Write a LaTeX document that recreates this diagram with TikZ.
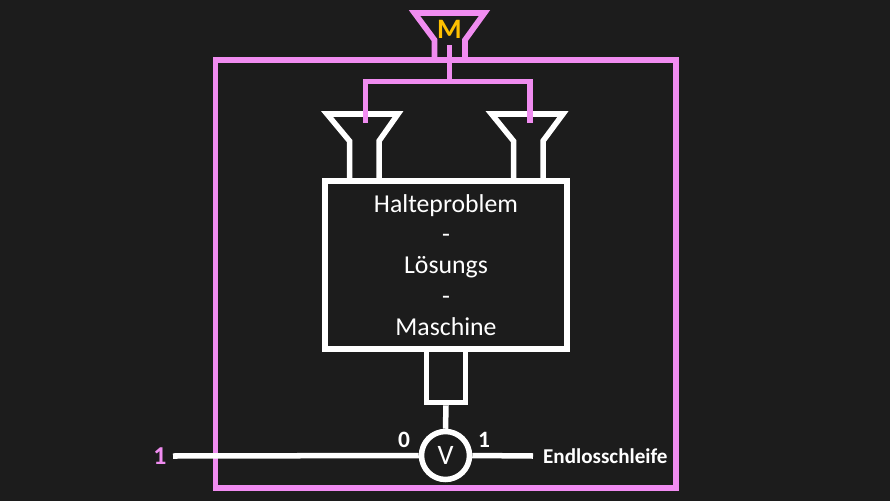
\documentclass[tikz,border=0pt]{standalone}
\usepackage{fontspec}
\setmainfont{Carlito}
\definecolor{hintergrund}{HTML}{1C1C1C}
\definecolor{rosa}{HTML}{F08CF0}
\definecolor{gelb}{HTML}{FFC000}
\tikzset{
	weiss/.style = {draw = white, line width = 4.7pt},
	rosalinie/.style = {draw = rosa, line width = 4.9pt}
}

\begin{document}
\begin{tikzpicture}[x = 0.03cm, y = -0.03cm]
\useasboundingbox[fill = hintergrund] (0,0) rectangle (890,501);

% Rahmen
\draw[rosalinie] (215.5,60) rectangle (676,488);

% Trichter M
\draw[rosalinie] (434.5,60) -- (434.5,40) -- (414.5,13) -- (484.5,13) -- (465,40) -- (465,60);
\node[text = gelb, font = \fontsize{24}{26}\selectfont\bfseries] (Mlabel) at (449.5,29) {M};

% Knoten
\begin{scope}[
		every node/.style = {weiss, text = white, inner sep = 0pt}]
	\node[minimum width = 7.26cm, minimum height = 5.04cm, align = center,
		font = \fontsize{22}{26.35}\selectfont] (Maschine) at (446,265)
		{Halteproblem\\-\\Lösungs\\-\\Maschine};
	\node[minimum width = 1.18cm, minimum height = 1.6cm] (Ausgang) at (446,376) {};
	\node[circle, minimum size = 1.44cm, font = \fontsize{24}{26}\selectfont] (V) at (445.5,455.5) {V};
\end{scope}

% Trichter unten
\draw[weiss] (349.5,180) -- (349.5,141) -- (327,114) -- (398,114) -- (379,141) -- (379,180);
\draw[weiss] (513.5,180) -- (513.5,141) -- (491.5,114) -- (563,114) -- (543,141) -- (543,180);

% Verteiler
\coordinate (M) at (449.5,45);
\coordinate (Verteil) at (449.5,81.5);
\coordinate (TL) at (365.5,123);
\coordinate (TR) at (530,123);
\draw[rosalinie] (M) -- (Verteil) -| (TL);
\draw[rosalinie] (Verteil) -| (TR);

% Pfade
\coordinate (Start) at (173,456);
\coordinate (Ende) at (533,456);
\draw[weiss] (Ausgang.south) -- (V.north);
\draw[weiss] (Start) -- (V.west);
\draw[weiss] (V.east) -- (Ende);

% Beschriftung
\begin{scope}[
		every node/.style = {text = white, font = \fontsize{20}{22}\selectfont\bfseries}]
	\node (Null) at (404,440) {0};
	\node (Eins) at (484,440) {1};
	\node[anchor = west, font = \fontsize{18}{20}\selectfont\bfseries] (Schleife) at (539,456) {Endlosschleife};
	\node[text = rosa, font = \fontsize{22}{24}\selectfont\bfseries] (Eingabe) at (160,456) {1};
\end{scope}
\end{tikzpicture}
\end{document}
